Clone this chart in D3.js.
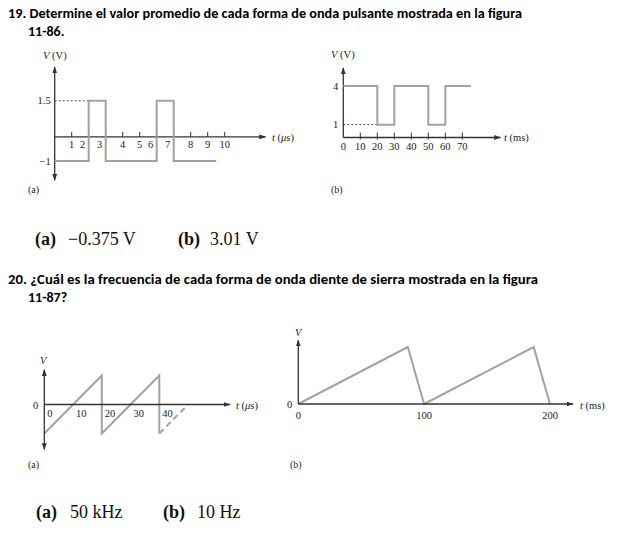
<!DOCTYPE html>
<html><head><meta charset="utf-8">
<script src="https://cdn.jsdelivr.net/npm/d3@7"></script>
<style>body{margin:0;background:#fff}svg{display:block}</style>
</head><body>
<script>
// ---------- data ----------
const title19 = ["19. Determine el valor promedio de cada forma de onda pulsante mostrada en la figura", "11-86."];
const title20 = ["20. ¿Cuál es la frecuencia de cada forma de onda diente de sierra mostrada en la figura", "11-87?"];
const answerLabels = ["(a)", "(b)"];
const answers19 = ["−0.375 V", "3.01 V"];
const answers20 = ["50 kHz", "10 Hz"];

// Fig 11-86 (a): pulse waveform, t in µs, V in volts
const tA = [0, 2, 3, 6, 7, 9.5];
const vA = [-1, 1.5, -1, 1.5, -1, -1];
const ticksA = [1, 2, 3, 4, 5, 6, 7, 8, 9, 10];
const levelsA = [1.5, -1];

// Fig 11-86 (b): pulse waveform, t in ms, V in volts
const tB = [0, 20, 30, 50, 60, 75];
const vB = [4, 1, 4, 1, 4, 4];
const ticksB = [0, 10, 20, 30, 40, 50, 60, 70];
const levelsB = [4, 1];

// Fig 11-87 (a): sawtooth, t in µs (normalized V)
const tC = [0, 20, 20, 40, 40];
const vC = [-1, 1, -1, 1, -1];
const tCdash = [40, 50];
const vCdash = [-1, 0];
const ticksC = [0, 10, 20, 30, 40];

// Fig 11-87 (b): sawtooth, t in ms (normalized V)
const tD = [0, 87, 100, 187, 200];
const vD = [0, 1, 0, 1, 0];
const ticksD = [0, 100, 200];

// ---------- drawing ----------
const W = 630, H = 537;
const AX = "#333", WAVE = "#a2a2a2", SERIF = "'Liberation Serif','Times New Roman',serif";
const svg = d3.select("body").append("svg").attr("width", W).attr("height", H);
const defs = svg.append("defs");
defs.append("marker").attr("id", "arr").attr("viewBox", "0 0 10 10").attr("refX", 9).attr("refY", 5)
  .attr("markerWidth", 7).attr("markerHeight", 7).attr("markerUnits", "userSpaceOnUse").attr("orient", "auto-start-reverse")
  .append("path").attr("d", "M0,1.5 L10,5 L0,8.5 Z").attr("fill", AX);

function axisLine(g, x1, y1, x2, y2, start, end) {
  const l = g.append("line").attr("x1", x1).attr("y1", y1).attr("x2", x2).attr("y2", y2)
    .attr("stroke", AX).attr("stroke-width", 1.3);
  if (start) l.attr("marker-start", "url(#arr)");
  if (end) l.attr("marker-end", "url(#arr)");
}
function txt(g, x, y, s, opt = {}) {
  const t = g.append("text").attr("x", x).attr("y", y).attr("font-family", opt.family || SERIF)
    .attr("font-size", opt.size || 10.5).attr("fill", opt.fill || "#222")
    .attr("text-anchor", opt.anchor || "start");
  if (opt.weight) t.attr("font-weight", opt.weight);
  if (opt.italic) t.attr("font-style", "italic");
  t.text(s);
  return t;
}
function axisTitle(g, x, y, parts, anchor) {
  const t = g.append("text").attr("x", x).attr("y", y).attr("font-family", SERIF).attr("font-size", 10.5)
    .attr("fill", "#222").attr("text-anchor", anchor || "start");
  parts.forEach(p => t.append("tspan").attr("font-style", p[1] ? "italic" : "normal").text(p[0]));
}
function wave(g, xs, ys, x, y, curve, dash) {
  const pts = xs.map((d, i) => [x(d), y(ys[i])]);
  const p = g.append("path").attr("d", d3.line().curve(curve || d3.curveLinear)(pts))
    .attr("fill", "none").attr("stroke", WAVE).attr("stroke-width", 2).attr("stroke-linejoin", "miter");
  if (dash) p.attr("stroke-dasharray", dash);
}

// ---------- headings ----------
const HEAD = "Carlito, Calibri, Lato, 'Open Sans', sans-serif";
txt(svg, 8, 18, title19[0], {family: HEAD, size: 14, weight: "bold", fill: "#000"}).attr("textLength", 514).attr("lengthAdjust", "spacingAndGlyphs");
txt(svg, 28, 36, title19[1], {family: HEAD, size: 14, weight: "bold", fill: "#000"});
txt(svg, 8, 284, title20[0], {family: HEAD, size: 14, weight: "bold", fill: "#000"}).attr("textLength", 530).attr("lengthAdjust", "spacingAndGlyphs");
txt(svg, 28, 302, title20[1], {family: HEAD, size: 14, weight: "bold", fill: "#000"});

// ---------- answers ----------
function answerRow(y, vals, xs) {
  answerLabels.forEach((lab, i) => {
    txt(svg, xs[i][0], y, lab, {size: 18, weight: "bold", fill: "#111"});
    txt(svg, xs[i][1], y, vals[i], {size: 18, fill: "#111"});
  });
}
answerRow(245, answers19, [[35, 68], [178, 210]]);
answerRow(518, answers20, [[36, 70], [163, 197]]);

// ---------- Fig 11-86 (a) ----------
{
  const g = svg.append("g");
  const x = d3.scaleLinear([0, 10], [54.7, 224.7]);
  const y = d3.scaleLinear([-1, 1.5], [161, 100.8]);
  // dotted reference at 1.5
  g.append("line").attr("x1", x(0)).attr("x2", x(tA[1])).attr("y1", y(1.5)).attr("y2", y(1.5))
    .attr("stroke", "#555").attr("stroke-width", 1).attr("stroke-dasharray", "2,2");
  axisLine(g, x(0), y(0), x(12.4), y(0), false, true);
  axisLine(g, x(0), y(-1.8), x(0), y(2.9), true, true);
  ticksA.forEach(t => {
    g.append("line").attr("x1", x(t)).attr("x2", x(t)).attr("y1", y(0)).attr("y2", y(0) - 5)
      .attr("stroke", AX).attr("stroke-width", 1);
    const shift = tA.includes(t) ? -6 : 0;
    txt(g, x(t) + shift, y(0) + 11, String(t), {anchor: "middle"});
  });
  levelsA.forEach(v => txt(g, x(0) - 4, y(v) + 3.5, v < 0 ? "−" + Math.abs(v) : String(v), {anchor: "end"}));
  wave(g, tA, vA, x, y, d3.curveStepAfter);
  axisTitle(g, 43, 59, [["V", true], [" (V)", false]]);
  axisTitle(g, 272, 141, [["t", true], [" (", false], ["μ", true], ["s)", false]]);
  txt(g, 28, 193, "(a)", {size: 10});
}

// ---------- Fig 11-86 (b) ----------
{
  const g = svg.append("g");
  const x = d3.scaleLinear([0, 70], [343.3, 462.3]);
  const y = d3.scaleLinear([0, 4], [137.5, 86]);
  g.append("line").attr("x1", x(0)).attr("x2", x(tB[1])).attr("y1", y(1)).attr("y2", y(1))
    .attr("stroke", "#555").attr("stroke-width", 1).attr("stroke-dasharray", "2,2");
  axisLine(g, x(0), y(0), x(92.5), y(0), false, true);
  axisLine(g, x(0), y(0), x(0), y(5.4), false, true);
  ticksB.forEach(t => {
    if (t > 0) g.append("line").attr("x1", x(t)).attr("x2", x(t)).attr("y1", y(0) + 2).attr("y2", y(0) - 5)
      .attr("stroke", AX).attr("stroke-width", 1);
    txt(g, x(t), y(0) + 12, String(t), {anchor: "middle"});
  });
  levelsB.forEach(v => txt(g, x(0) - 5, y(v) + 3.5, String(v), {anchor: "end"}));
  wave(g, tB, vB, x, y, d3.curveStepAfter);
  axisTitle(g, 331, 58, [["V", true], [" (V)", false]]);
  axisTitle(g, 504, 141, [["t", true], [" (ms)", false]]);
  txt(g, 331, 193, "(b)", {size: 10});
}

// ---------- Fig 11-87 (a) ----------
{
  const g = svg.append("g");
  const x = d3.scaleLinear([0, 20], [44.3, 101.8]);
  const y = d3.scaleLinear([-1, 1], [433.5, 375.5]);
  wave(g, tC, vC, x, y);
  wave(g, tCdash, vCdash, x, y, null, "6,4");
  axisLine(g, x(0), y(0), 230, y(0), false, true);
  axisLine(g, x(0), y(-1.55), x(0), y(1.2), true, true);
  ticksC.forEach(t => txt(g, x(t) + 3, y(0) + 12.5, String(t)));
  txt(g, x(0) - 6, y(0) + 4, "0", {anchor: "end"});
  axisTitle(g, 40, 364, [["V", true]]);
  axisTitle(g, 236, 409, [["t", true], [" (", false], ["μ", true], ["s)", false]]);
  txt(g, 28, 468, "(a)", {size: 10});
}

// ---------- Fig 11-87 (b) ----------
{
  const g = svg.append("g");
  const x = d3.scaleLinear([0, 200], [298.3, 550]);
  const y = d3.scaleLinear([0, 1], [404, 347]);
  wave(g, tD, vD, x, y);
  axisLine(g, x(0), y(0), 573, y(0), false, true);
  axisLine(g, x(0), y(0), x(0), y(1.12), false, true);
  ticksD.forEach(t => txt(g, x(t), y(0) + 15, String(t), {anchor: "middle"}));
  txt(g, x(0) - 6, y(0) + 4, "0", {anchor: "end"});
  axisTitle(g, 295, 336, [["V", true]]);
  axisTitle(g, 580, 409, [["t", true], [" (ms)", false]]);
  txt(g, 290, 468, "(b)", {size: 10});
}
</script>
</body></html>
